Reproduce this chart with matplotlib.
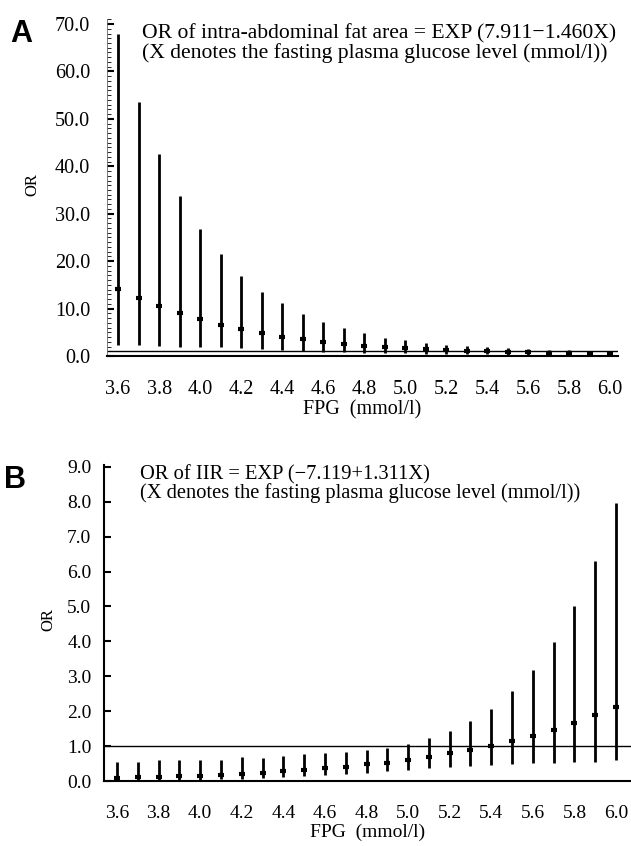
import numpy as np
from matplotlib import pyplot as plt
from matplotlib.ticker import MultipleLocator, FormatStrFormatter

plt.rcParams['font.family'] = ['Liberation Serif', 'DejaVu Serif']

fpg = [3.6, 3.7, 3.8, 3.9, 4.0, 4.1, 4.2, 4.3, 4.4, 4.5, 4.6, 4.7, 4.8,
       4.9, 5.0, 5.1, 5.2, 5.3, 5.4, 5.5, 5.6, 5.7, 5.8, 5.9, 6.0]
xticks = [3.6, 3.8, 4.0, 4.2, 4.4, 4.6, 4.8, 5.0, 5.2, 5.4, 5.6, 5.8, 6.0]

# panel A: intra-abdominal fat area
a_or = [14.2, 12.2, 10.5, 9.0, 7.7, 6.6, 5.6, 4.8, 4.1, 3.5, 3.0, 2.6, 2.2,
        1.9, 1.7, 1.5, 1.3, 1.1, 1.0, 0.9, 0.8, 0.7, 0.6, 0.5, 0.5]
a_hi = [68.0, 53.6, 42.6, 33.7, 26.7, 21.5, 16.9, 13.5, 11.1, 8.8, 7.2, 5.8, 4.9,
        3.9, 3.3, 2.8, 2.4, 2.1, 1.8, 1.6, 1.4, 1.3, 1.2, 1.1, 1.0]
a_lo = [2.4, 2.3, 2.2, 2.0, 1.9, 1.8, 1.6, 1.4, 1.2, 1.0, 0.9, 0.8, 0.7,
        0.6, 0.55, 0.5, 0.45, 0.4, 0.35, 0.3, 0.3, 0.25, 0.2, 0.2, 0.2]

# panel B: IIR
b_or = [0.10, 0.11, 0.13, 0.14, 0.16, 0.19, 0.21, 0.24, 0.28, 0.33, 0.37, 0.42, 0.48,
        0.53, 0.61, 0.70, 0.80, 0.89, 1.00, 1.14, 1.29, 1.46, 1.66, 1.89, 2.13]
b_hi = [0.56, 0.56, 0.60, 0.60, 0.60, 0.62, 0.70, 0.68, 0.72, 0.77, 0.82, 0.85, 0.89,
        0.94, 1.08, 1.24, 1.44, 1.73, 2.08, 2.59, 3.18, 3.98, 5.01, 6.30, 7.95]
b_lo = [0.03, 0.03, 0.04, 0.04, 0.05, 0.06, 0.07, 0.09, 0.11, 0.14, 0.18, 0.21, 0.24,
        0.30, 0.33, 0.38, 0.42, 0.44, 0.47, 0.49, 0.53, 0.53, 0.56, 0.56, 0.61]

fig = plt.figure(figsize=(6.31, 8.46), dpi=100)


def panel(ax, lo, hi, est, ylim, xlim, major, minor, letter, lines,
          fs, tfs, ypad, ylab_x, text_y):
    ax.vlines(fpg, lo, hi, color='black', lw=2.0)
    ax.plot(fpg, est, ls='none', marker='_', ms=5, mew=3, color='black')
    ax.axhline(1.0, color='black', lw=1.0)
    ax.set_xlim(*xlim)
    ax.set_ylim(*ylim)
    ax.spines['top'].set_visible(False)
    ax.spines['right'].set_visible(False)
    ax.spines['bottom'].set_linewidth(1.5)
    ax.set_xticks(xticks)
    ax.xaxis.set_major_formatter(FormatStrFormatter('%.1f'))
    ax.yaxis.set_major_locator(MultipleLocator(major))
    ax.yaxis.set_major_formatter(FormatStrFormatter('%.1f'))
    if minor:
        ax.yaxis.set_minor_locator(MultipleLocator(minor))
    ax.tick_params(axis='x', length=0, pad=17, labelsize=fs)
    ax.tick_params(axis='y', which='major', direction='in', length=5, width=1.5, pad=ypad, labelsize=fs)
    ax.tick_params(axis='y', which='minor', direction='in', length=3, width=0.6)
    ax.set_xlabel('FPG  (mmol/l)', fontsize=fs, labelpad=1)
    ax.set_ylabel('OR', fontsize=12)
    ax.yaxis.set_label_coords(ylab_x, 0.51)
    ax.text(0.069, text_y, lines, transform=ax.transAxes, va='top', ha='left',
            fontsize=tfs, linespacing=0.95)
    ax.text(-0.19, 1.0, letter, transform=ax.transAxes, va='top', ha='left',
            fontsize=22, fontweight='bold', family='Liberation Sans')


axA = fig.add_axes([0.1696, 0.5792, 0.81, 0.398])
panel(axA, a_lo, a_hi, a_or, (0, 71), (3.546, 6.039), 10, 1, 'A',
      "OR of intra-abdominal fat area = EXP (7.911\u22121.460X)\n"
      "(X denotes the fasting plasma glucose level (mmol/l))",
      14.5, 15.6, 12, -0.131, 0.985)
axA.spines['left'].set_linewidth(0.6)
axA.spines['left'].set_color('0.4')

axB = fig.add_axes([0.1648, 0.0765, 0.8352, 0.374])
panel(axB, b_lo, b_hi, b_or, (0, 9.05), (3.5375, 6.072), 1, None, 'B',
      "OR of IIR = EXP (\u22127.119+1.311X)\n"
      "(X denotes the fasting plasma glucose level (mmol/l))",
      14, 14.8, 9, -0.091, 1.0)
axB.spines['left'].set_linewidth(1.5)

fig.savefig('out.png', dpi=100)
